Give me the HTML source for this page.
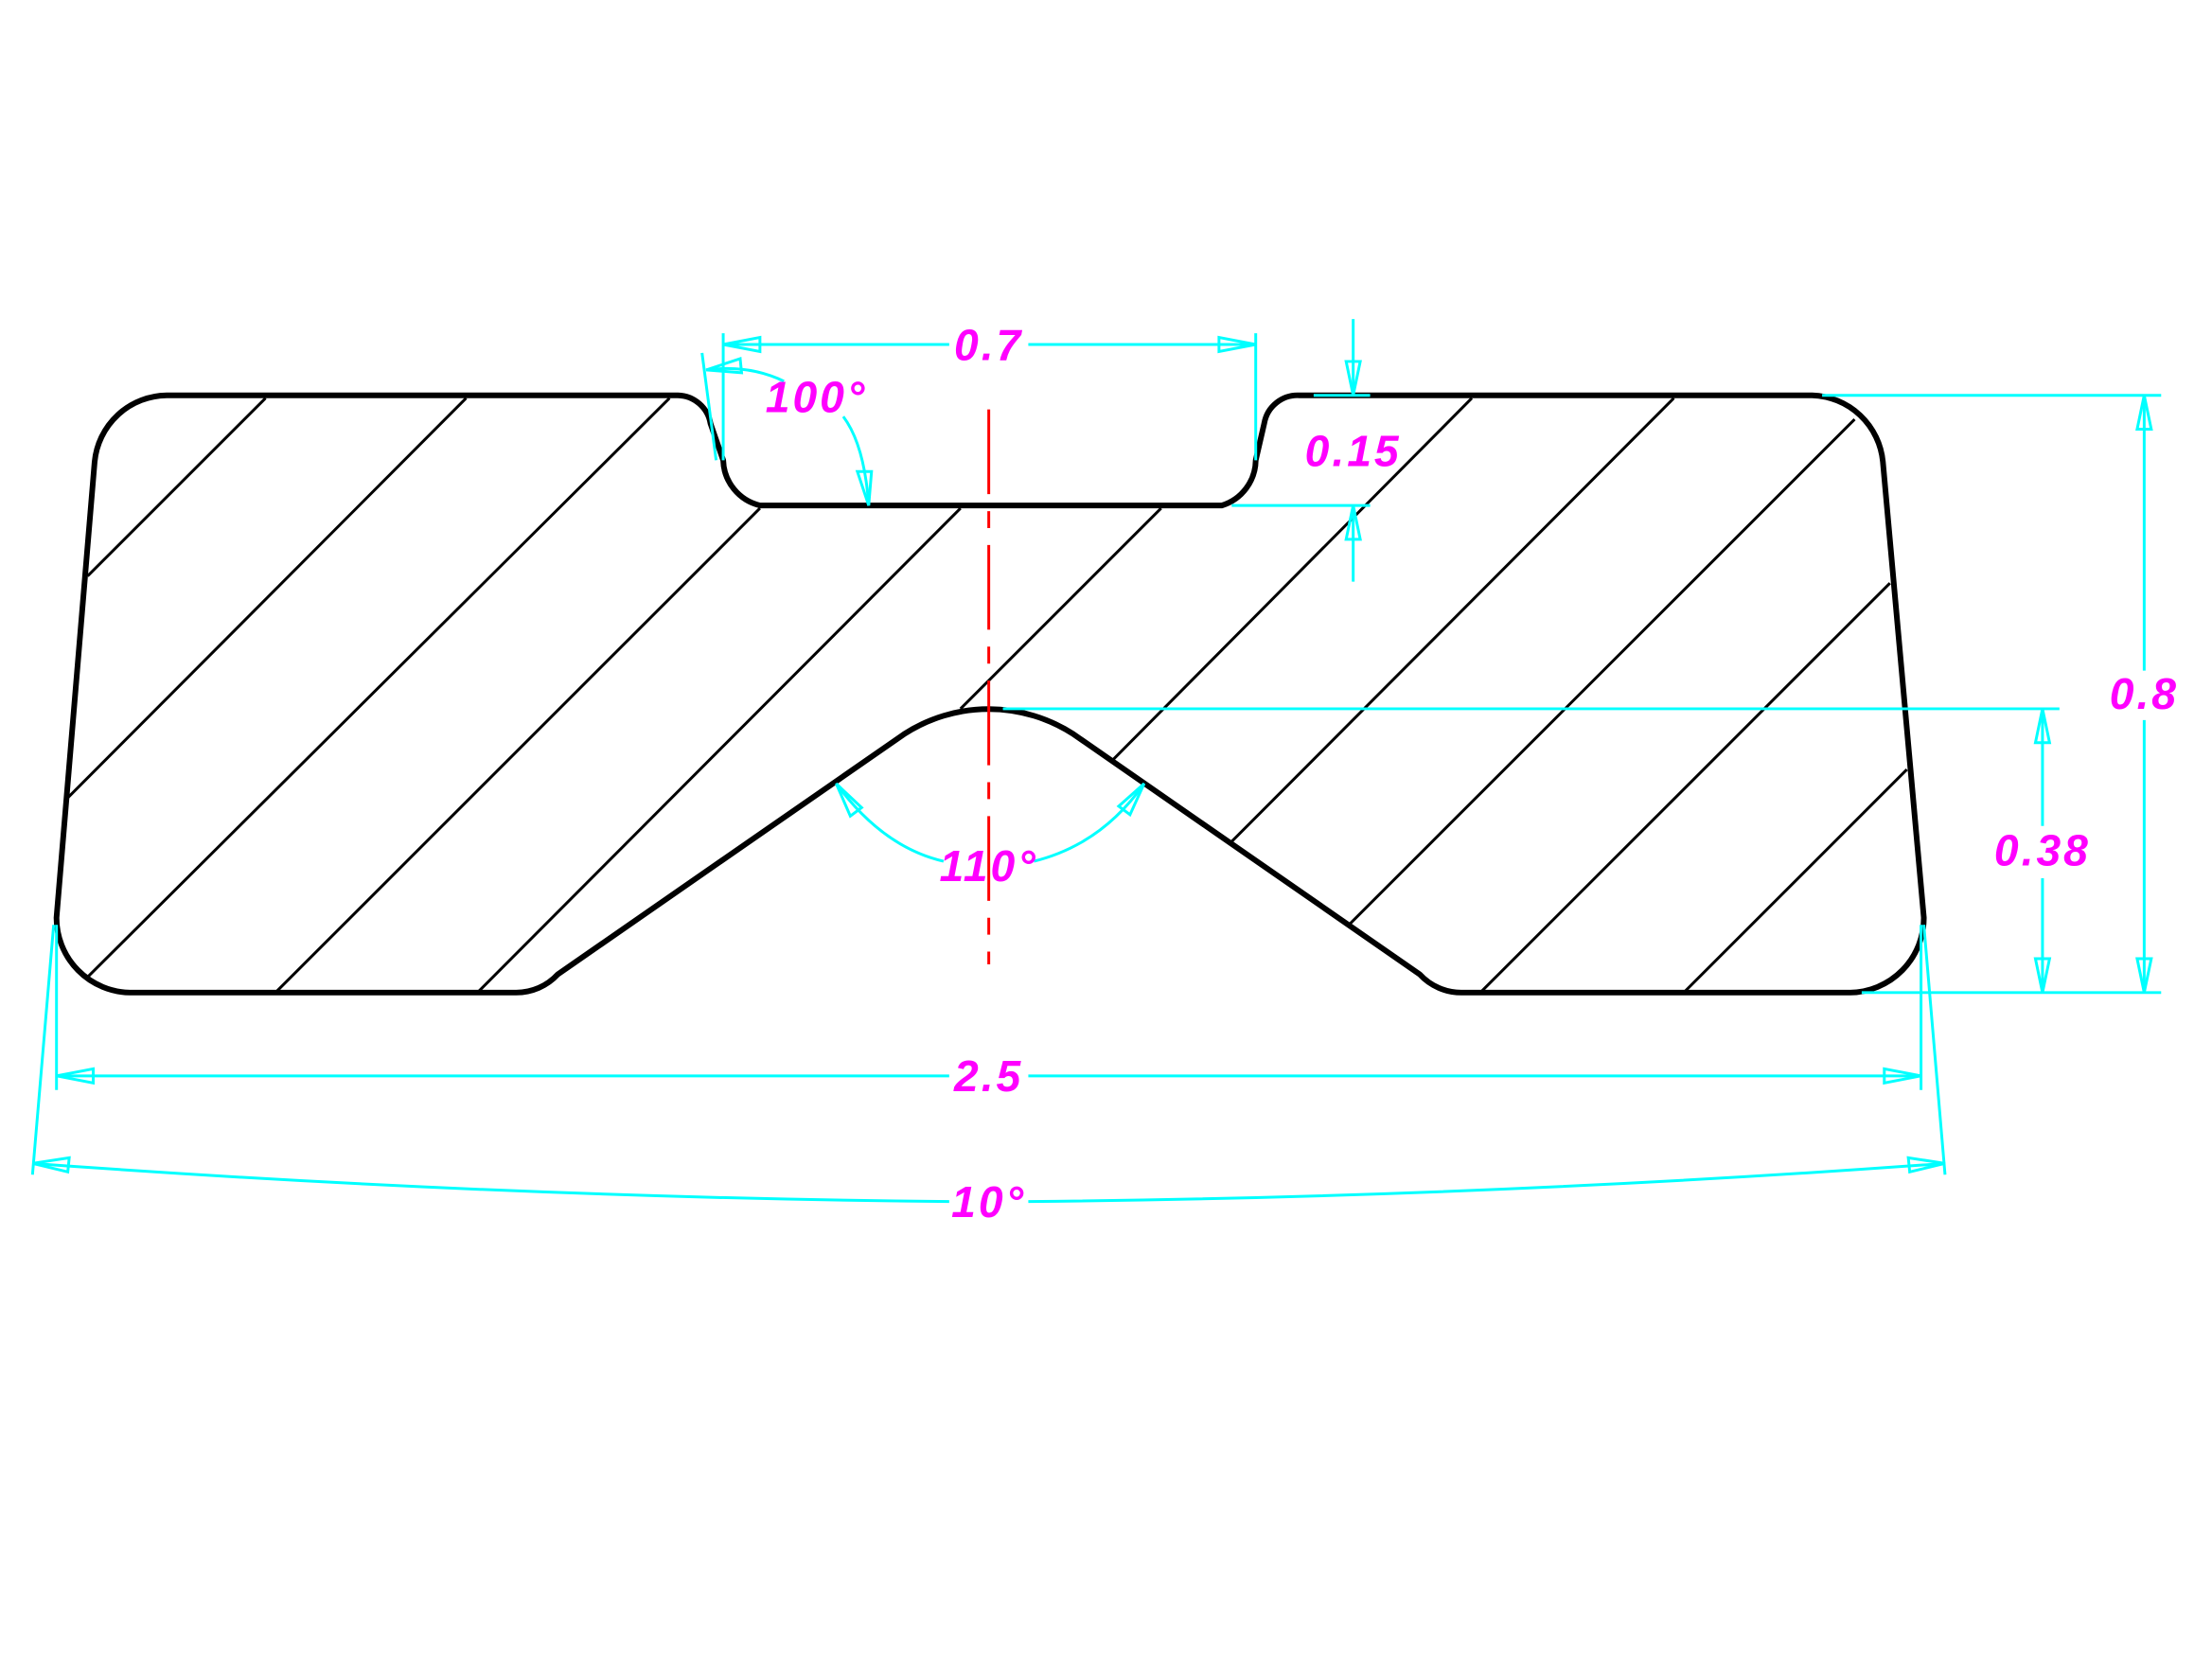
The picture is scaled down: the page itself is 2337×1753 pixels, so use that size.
<!DOCTYPE html>
<html><head><meta charset="utf-8"><style>
html,body{margin:0;padding:0;background:#fff;}
svg{display:block;}
text{font-family:"Liberation Sans",sans-serif;font-style:italic;fill:#ff00ff;font-size:31px;letter-spacing:2px;font-weight:bold;}
</style></head><body>
<svg width="2337" height="1753" viewBox="0 0 1566 1175" preserveAspectRatio="none" xmlns="http://www.w3.org/2000/svg">
<rect width="1566" height="1175" fill="#fff"/>
<g stroke="#000" stroke-width="2">
<line x1="62" y1="408" x2="188" y2="282"/>
<line x1="48" y1="565" x2="330" y2="282"/>
<line x1="62" y1="692" x2="474" y2="282"/>
<line x1="195" y1="703" x2="538" y2="360"/>
<line x1="338" y1="703" x2="680" y2="360"/>
<line x1="680" y1="502" x2="822" y2="360"/>
<line x1="788" y1="538" x2="1042" y2="282"/>
<line x1="870" y1="598" x2="1185" y2="282"/>
<line x1="955" y1="655" x2="1313" y2="297"/>
<line x1="1048" y1="703" x2="1338" y2="413"/>
<line x1="1192" y1="703" x2="1350" y2="545"/>
</g>
<path d="M118,280 L480,280 A24,24 0 0 1 503,300 L512,326 A34,34 0 0 0 538,358 L865,358 A34,34 0 0 0 889,326 L895,300 A24,24 0 0 1 920,280 L1283,280 A52,52 0 0 1 1333,327 L1362,650 A53,53 0 0 1 1310,703 L1035,703 A40,40 0 0 1 1005,690 L760,520 A110,110 0 0 0 640,520 L395,690 A40,40 0 0 1 365,703 L92,703 A53,53 0 0 1 40,650 L67,327 A52,52 0 0 1 118,280 Z" fill="none" stroke="#000" stroke-width="4" stroke-linejoin="round"/>
<line x1="700" y1="290" x2="700" y2="683" stroke="#ff0000" stroke-width="2" stroke-dasharray="60,12,12,12"/>
<g stroke="#00ffff" stroke-width="2" fill="none">
<line x1="512" y1="236" x2="512" y2="326"/><line x1="889" y1="236" x2="889" y2="326"/>
<line x1="512" y1="244" x2="672" y2="244"/><line x1="728" y1="244" x2="889" y2="244"/>
<path d="M512,244 l26,-5 v10 z M889,244 l-26,-5 v10 z"/>
<line x1="497" y1="250" x2="507" y2="326"/>
<path d="M500,262 Q530,258 555,270"/><path d="M597,295 Q612,315 615,358"/>
<path d="M500,262 l24,-8 l1,10 z M615,358 l-8,-24 l10,0 z"/>
<line x1="930" y1="280" x2="970" y2="280"/><line x1="872" y1="358" x2="970" y2="358"/>
<line x1="958" y1="226" x2="958" y2="280"/><line x1="958" y1="358" x2="958" y2="412"/>
<path d="M958,280 l-5,-24 h10 z M958,358 l-5,24 h10 z"/>
<line x1="1290" y1="280" x2="1530" y2="280"/><line x1="1318" y1="703" x2="1530" y2="703"/>
<line x1="1518" y1="280" x2="1518" y2="475"/><line x1="1518" y1="510" x2="1518" y2="703"/>
<path d="M1518,280 l-5,24 h10 z M1518,703 l-5,-24 h10 z"/>
<line x1="710" y1="502" x2="1458" y2="502"/>
<line x1="1446" y1="502" x2="1446" y2="585"/><line x1="1446" y1="622" x2="1446" y2="703"/>
<path d="M1446,502 l-5,24 h10 z M1446,703 l-5,-24 h10 z"/>
<path d="M592,555 Q625,600 668,610"/><path d="M732,610 Q780,598 810,555"/>
<path d="M592,555 l18,17 l-8,6 z M810,555 l-10,22 l-8,-6 z"/>
<line x1="40" y1="655" x2="40" y2="772"/><line x1="1360" y1="655" x2="1360" y2="772"/>
<line x1="40" y1="762" x2="672" y2="762"/><line x1="728" y1="762" x2="1360" y2="762"/>
<path d="M40,762 l26,-5 v10 z M1360,762 l-26,-5 v10 z"/>
<line x1="38" y1="655" x2="23" y2="832"/><line x1="1362" y1="655" x2="1377" y2="832"/>
<path d="M23,824 Q350,848 672,851"/><path d="M728,851 Q1050,848 1377,824"/>
<path d="M23,824 l26,-4 l-1,10 z M1377,824 l-26,-4 l1,10 z"/>
</g>
<text x="700" y="255" text-anchor="middle">0.7</text>
<text x="578" y="292" text-anchor="middle">100°</text>
<text x="958" y="330" text-anchor="middle">0.15</text>
<text x="1518" y="502" text-anchor="middle">0.8</text>
<text x="1446" y="613" text-anchor="middle">0.38</text>
<text x="700" y="624" text-anchor="middle">110°</text>
<text x="700" y="773" text-anchor="middle">2.5</text>
<text x="700" y="862" text-anchor="middle">10°</text>
</svg>
</body></html>
